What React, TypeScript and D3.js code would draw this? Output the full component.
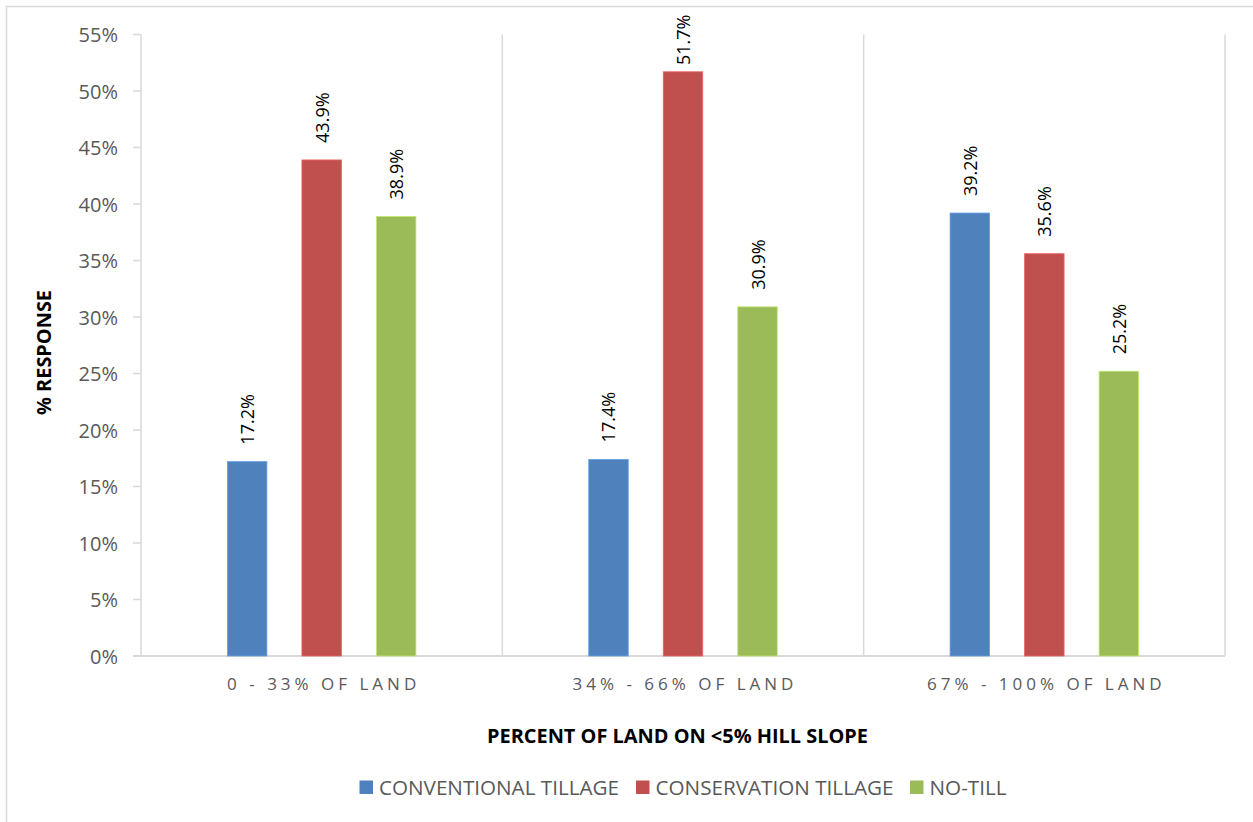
import React from "react";
import * as d3 from "d3";

// Share of responses by tillage practice, grouped by how much land sits on <5% slope
const categories = ["0 - 33% OF LAND", "34% - 66% OF LAND", "67% - 100% OF LAND"];
const seriesNames = ["CONVENTIONAL TILLAGE", "CONSERVATION TILLAGE", "NO-TILL"];
const seriesColors = ["#4F81BD", "#C0504D", "#9BBB59"];
const conventional = [17.2, 17.4, 39.2];
const conservation = [43.9, 51.7, 35.6];
const noTill = [38.9, 30.9, 25.2];
const yTicks = [0, 5, 10, 15, 20, 25, 30, 35, 40, 45, 50, 55];

const seriesValues = [conventional, conservation, noTill];

const W = 1253;
const H = 822;
const FONT = "'Open Sans', 'Noto Sans', sans-serif";
const GRID = "#D9D9D9";
const TEXT_GRAY = "#595959";

export default function App() {
  const plotLeft = 141;
  const plotRight = 1225;
  const plotTop = 34.5;
  const plotBottom = 656;

  const x0 = d3.scaleBand<string>().domain(categories).range([plotLeft, plotRight]).padding(0);
  const groupSpan = 188.5;
  const x1 = d3
    .scaleBand<string>()
    .domain(seriesNames)
    .range([-groupSpan / 2, groupSpan / 2])
    .paddingInner(0.47)
    .paddingOuter(0);
  const y = d3.scaleLinear().domain([0, 55]).range([plotBottom, plotTop]);

  const boundaries = categories.map((c) => x0(c) as number).concat([plotRight]);

  // value labels sit 17px above the bar, but are pushed down to stay inside the frame
  const labelGap = 17;
  const labelLen = 51;
  const labelMinTop = 14;

  // legend layout: square position, label start and label width
  const legendItems = [
    { x: 359.5, tx: 379, tw: 240 },
    { x: 636, tx: 655.5, tw: 238 },
    { x: 910, tx: 929.5, tw: 77 },
  ];

  return (
    <svg
      width={W}
      height={H}
      style={{ position: "absolute", left: 0, top: 0, display: "block", background: "#fff" }}
      fontFamily={FONT}
    >
      {/* chart frame */}
      <rect x={6.5} y={6.5} width={W + 20} height={H + 20} fill="#fff" stroke={GRID} strokeWidth={1.5} />

      {/* vertical category dividers */}
      {boundaries.map((bx, i) => (
        <line key={"v" + i} x1={bx} x2={bx} y1={plotTop} y2={plotBottom} stroke={GRID} strokeWidth={1.5} />
      ))}

      {/* y ticks and labels */}
      {yTicks.map((t) => (
        <g key={"t" + t}>
          <line x1={plotLeft - 8} x2={plotLeft} y1={y(t)} y2={y(t)} stroke={GRID} strokeWidth={1.5} />
          <text
            x={118}
            y={y(t)}
            textAnchor="end"
            dominantBaseline="central"
            fontSize={20}
            fill={TEXT_GRAY}
          >
            {t + "%"}
          </text>
        </g>
      ))}

      {/* x axis line */}
      <line x1={plotLeft - 8} x2={plotRight} y1={plotBottom} y2={plotBottom} stroke={GRID} strokeWidth={2} />

      {/* bars */}
      {categories.map((c, ci) => {
        const cx = (x0(c) as number) + x0.bandwidth() / 2;
        return (
          <g key={"g" + ci}>
            {seriesNames.map((s, si) => {
              const v = seriesValues[si][ci];
              const bx = cx + (x1(s) as number);
              const bw = x1.bandwidth();
              const top = y(v);
              const labelStart = Math.max(top - labelGap, labelMinTop + labelLen);
              return (
                <g key={s}>
                  <rect
                    x={bx}
                    y={top}
                    width={bw}
                    height={plotBottom - top}
                    fill={seriesColors[si]}
                    stroke={d3.color(seriesColors[si])!.brighter(0.6).formatHex()}
                    strokeWidth={0.8}
                  />
                  <text
                    transform={`translate(${bx + bw / 2},${labelStart}) rotate(-90)`}
                    dominantBaseline="central"
                    fontSize={18}
                    fill="#000"
                  >
                    {v.toFixed(1) + "%"}
                  </text>
                </g>
              );
            })}
          </g>
        );
      })}

      {/* category labels */}
      {categories.map((c, ci) => (
        <text
          key={"cl" + ci}
          x={(x0(c) as number) + x0.bandwidth() / 2 + 2}
          y={683}
          textAnchor="middle"
          dominantBaseline="central"
          fontSize={17}
          letterSpacing={4}
          fill={TEXT_GRAY}
        >
          {c}
        </text>
      ))}

      {/* axis titles */}
      <text
        x={677.5}
        y={735}
        textAnchor="middle"
        dominantBaseline="central"
        fontSize={20}
        fontWeight="bold"
        fill="#000"
        textLength={381}
        lengthAdjust="spacingAndGlyphs"
      >
        PERCENT OF LAND ON &lt;5% HILL SLOPE
      </text>
      <text
        transform={`translate(43,352.5) rotate(-90)`}
        textAnchor="middle"
        dominantBaseline="central"
        fontSize={20}
        fontWeight="bold"
        fill="#000"
        textLength={125}
        lengthAdjust="spacingAndGlyphs"
      >
        % RESPONSE
      </text>

      {/* legend */}
      {seriesNames.map((s, si) => (
        <g key={"l" + si}>
          <rect x={legendItems[si].x} y={780.5} width={13.5} height={13.5} fill={seriesColors[si]} />
          <text
            x={legendItems[si].tx}
            y={787.5}
            dominantBaseline="central"
            fontSize={20}
            fill={TEXT_GRAY}
            textLength={legendItems[si].tw}
            lengthAdjust="spacingAndGlyphs"
          >
            {s}
          </text>
        </g>
      ))}
    </svg>
  );
}
